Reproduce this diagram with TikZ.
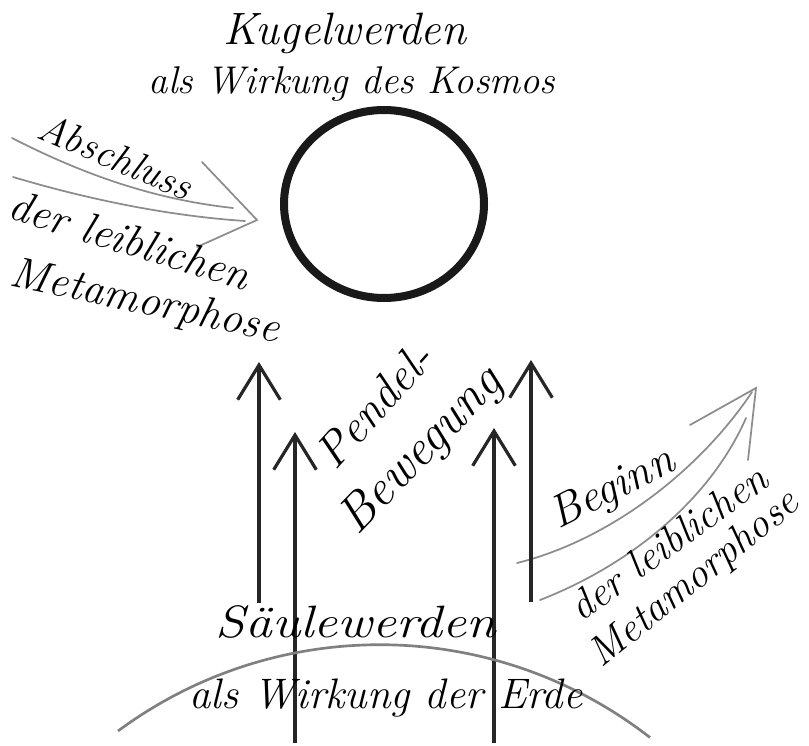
\documentclass[tikz,border=0pt]{standalone}
\usepackage{graphicx}
\usetikzlibrary{arrows.meta}
\begin{document}
\begin{tikzpicture}[x=0.75pt,y=-0.75pt,
  hand/.style={font=\fontsize{#1}{#1}\selectfont\itshape, inner sep=0pt},
  hand/.default=29,
  pencil/.style={draw=black!45, line width=1.3pt, line cap=round},
  pillar/.style={draw=black!85, line width=2.4pt, -{Straight Barb[length=26pt,width=32pt,line width=2.4pt]}},
  ground/.style={draw=black!50, line width=2pt}]
\useasboundingbox (0,0) rectangle (809,745);
% title
\node[hand=34] (kugel) at (345,33) {Kugelwerden};
\node[hand] (kosmos) at (352,84) {als Wirkung des Kosmos};
% sphere
\draw[line width=6pt, black!90] (384,204) ellipse [x radius=100, y radius=94];
% left arrow
\coordinate (lu0) at (12,138); \coordinate (lu1) at (233,208);
\coordinate (ll0) at (13,177); \coordinate (ll1) at (245,221);
\coordinate (lt) at (257,220); \coordinate (lh1) at (202,162); \coordinate (lh2) at (197,247);
\draw[pencil] (lu0) .. controls (90,178) and (160,200) .. (lu1);
\draw[pencil] (ll0) .. controls (90,200) and (170,216) .. (ll1);
\draw[pencil] (lh1) -- (lt) -- (lh2);
\node[hand=30, rotate=-23] (absch) at (116,156) {Abschluss};
\node[hand=33, rotate=-17] (leib1) at (130,240) {der leiblichen};
\node[hand=33, rotate=-12] (meta1) at (145,303) {Metamorphose};
% right arrow
\coordinate (ru0) at (517,563); \coordinate (ru1) at (752,392);
\coordinate (rl0) at (540,600); \coordinate (rl1) at (746,418);
\coordinate (rt) at (756,388); \coordinate (rh1) at (690,425); \coordinate (rh2) at (748,460);
\draw[pencil] (ru0) .. controls (610,540) and (700,470) .. (ru1);
\draw[pencil] (rl0) .. controls (630,565) and (710,500) .. (rl1);
\draw[pencil] (rh1) -- (rt) -- (rh2);
\node[hand=34, rotate=27] (beginn) at (613,490) {Beginn};
\node[hand=31, rotate=36] (leib2) at (668,542) {der leiblichen};
\node[hand=31, rotate=39] (meta2) at (695,580) {Metamorphose};
% pillars
\coordinate (a1b) at (259,603); \coordinate (a1t) at (259,362);
\coordinate (a2b) at (295,743); \coordinate (a2t) at (295,432);
\coordinate (a3b) at (494,743); \coordinate (a3t) at (494,428);
\coordinate (a4b) at (531,602); \coordinate (a4t) at (531,360);
\draw[pillar] (a1b) -- (a1t);
\draw[pillar] (a2b) -- (a2t);
\draw[pillar] (a3b) -- (a3t);
\draw[pillar] (a4b) -- (a4t);
\node[hand=35, rotate=48] (pendel) at (374,405) {Pendel-};
\node[hand=38, rotate=46] (beweg) at (422,452) {Bewegung};
% earth
\coordinate (e0) at (118,731);
\draw[ground] (e0) arc[start angle=-126.5, end angle=-52.1, radius=440] coordinate (e1);
\node[hand=34] (saeule) at (356,622) {\scalebox{1.18}[1]{Säulewerden}};
\node[hand=32] (erde) at (386,698) {als Wirkung der Erde};
\end{tikzpicture}
\end{document}
